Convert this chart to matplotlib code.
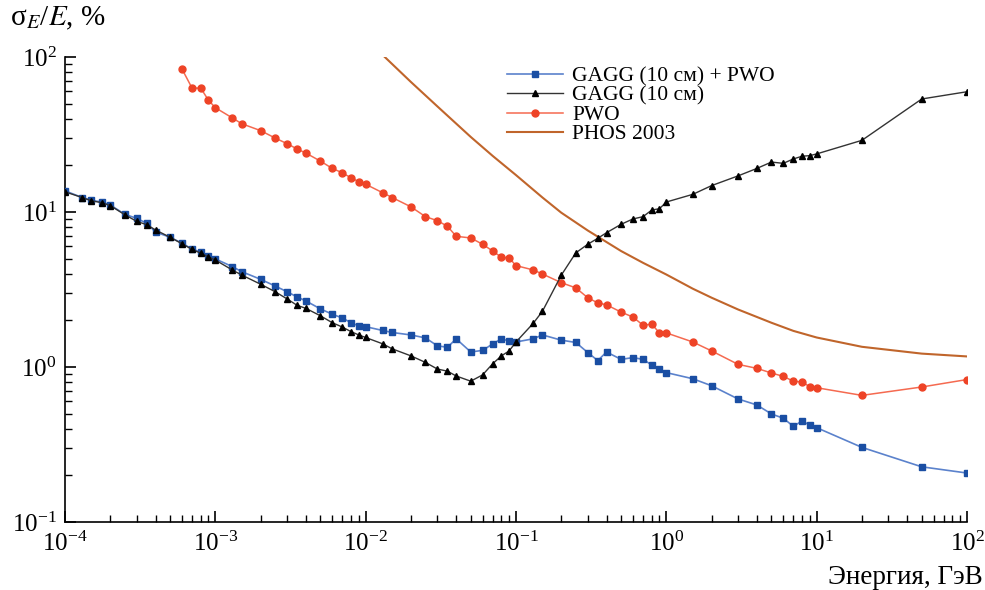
import numpy as np
import matplotlib
matplotlib.use("Agg")
import matplotlib.pyplot as plt
from matplotlib.ticker import LogLocator, LogFormatterMathtext, NullFormatter

plt.rcParams['font.family'] = ['Liberation Serif', 'DejaVu Serif']
plt.rcParams['mathtext.fontset'] = 'stix'

# energy grid (GeV) shared by the GAGG curves
energy = [1e-4, 1.3e-4, 1.5e-4, 1.75e-4, 2e-4, 2.5e-4, 3e-4, 3.5e-4, 4e-4, 5e-4,
          6e-4, 7e-4, 8e-4, 9e-4, 1e-3, 1.3e-3, 1.5e-3, 2e-3, 2.5e-3, 3e-3,
          3.5e-3, 4e-3, 5e-3, 6e-3, 7e-3, 8e-3, 9e-3, 1e-2, 1.3e-2, 1.5e-2,
          2e-2, 2.5e-2, 3e-2, 3.5e-2, 4e-2, 5e-2, 6e-2, 7e-2, 8e-2, 9e-2,
          0.1, 0.13, 0.15, 0.2, 0.25, 0.3, 0.35, 0.4, 0.5, 0.6,
          0.7, 0.8, 0.9, 1, 1.5, 2, 3, 4, 5, 6,
          7, 8, 9, 10, 20, 50, 100]

gagg_pwo = [13.7, 12.4, 11.9, 11.6, 11.1, 9.66, 9.10, 8.45, 7.43, 6.87,
            6.29, 5.77, 5.50, 5.20, 4.98, 4.44, 4.12, 3.68, 3.33, 3.06,
            2.83, 2.67, 2.37, 2.19, 2.07, 1.93, 1.84, 1.82, 1.72, 1.67,
            1.61, 1.54, 1.37, 1.34, 1.52, 1.25, 1.28, 1.41, 1.52, 1.47,
            1.45, 1.52, 1.61, 1.49, 1.44, 1.24, 1.10, 1.25, 1.12, 1.15,
            1.12, 1.03, 0.975, 0.92, 0.84, 0.757, 0.622, 0.569, 0.498, 0.467,
            0.414, 0.449, 0.421, 0.406, 0.303, 0.227, 0.207]

gagg = [13.5, 12.4, 11.8, 11.5, 11.0, 9.6, 8.7, 8.28, 7.66, 6.87,
        6.24, 5.74, 5.42, 5.13, 4.90, 4.22, 3.92, 3.42, 3.06, 2.75,
        2.50, 2.39, 2.14, 1.93, 1.81, 1.69, 1.61, 1.55, 1.41, 1.31,
        1.18, 1.07, 0.97, 0.94, 0.875, 0.81, 0.89, 1.05, 1.18, 1.27,
        1.45, 1.91, 2.29, 3.91, 5.45, 6.19, 6.77, 7.35, 8.33, 9.02,
        9.33, 10.3, 10.5, 11.6, 13.0, 14.8, 17.1, 19.1, 21.0, 20.6,
        22.0, 22.9, 23.1, 23.7, 29.0, 53.6, 59.7]

pwo_energy = energy[10:]
pwo = [83.7, 63.0, 63.0, 52.6, 47.1, 40.4, 37.1, 33.5, 30.0, 27.6,
       25.5, 24.0, 21.3, 19.1, 17.9, 16.6, 15.7, 15.1, 13.3, 12.4,
       10.8, 9.33, 8.79, 8.09, 6.97, 6.80, 6.19, 5.60, 5.10, 5.05,
       4.51, 4.23, 3.98, 3.50, 3.24, 2.80, 2.59, 2.52, 2.26, 2.10,
       1.86, 1.89, 1.66, 1.66, 1.45, 1.27, 1.04, 0.98, 0.915, 0.87,
       0.81, 0.80, 0.746, 0.735, 0.656, 0.743, 0.83]

# PHOS 2003 curve
phos_energy = [0.0134, 0.02, 0.03, 0.05, 0.07, 0.1, 0.15, 0.2, 0.3, 0.5,
               0.7, 1, 1.5, 2, 3, 5, 7, 10, 20, 50, 100]
phos = [100, 69, 48, 30.5, 23, 17.3, 12.4, 9.9, 7.6, 5.6,
        4.7, 3.95, 3.2, 2.8, 2.35, 1.93, 1.71, 1.55, 1.35, 1.22, 1.17]

fig = plt.figure(figsize=(9.85, 5.9), dpi=100)
ax = fig.add_axes([65/985, 1 - 522/590, (967 - 65)/985, (522 - 57)/590])

ax.plot(energy, gagg_pwo, color='#5b82cc', lw=1.2, marker='s', ms=5,
        mfc='#1a4ea3', mec='#1a4ea3', label='GAGG (10 см) + PWO', zorder=4)
ax.plot(energy, gagg, color='#333333', lw=1.0, marker='^', ms=4.5,
        mfc='black', mec='black', label='GAGG (10 см)', zorder=5)
ax.plot(pwo_energy, pwo, color='#f56a50', lw=1.1, marker='o', ms=5,
        mfc='#ee4326', mec='#ee4326', label='PWO', zorder=3)
ax.plot(phos_energy, phos, color='#c0652b', lw=1.5, label='PHOS 2003', zorder=2)

ax.set_xscale('log')
ax.set_yscale('log')
ax.set_xlim(1e-4, 1e2)
ax.set_ylim(1e-1, 1e2)

ax.spines['top'].set_visible(False)
ax.spines['right'].set_visible(False)
ax.spines['left'].set_linewidth(1.2)
ax.spines['bottom'].set_linewidth(1.2)

ax.xaxis.set_major_locator(LogLocator(base=10, numticks=10))
ax.xaxis.set_minor_locator(LogLocator(base=10, subs=np.arange(2, 10), numticks=20))
ax.yaxis.set_major_locator(LogLocator(base=10, numticks=10))
ax.yaxis.set_minor_locator(LogLocator(base=10, subs=np.arange(2, 10), numticks=20))
ax.xaxis.set_major_formatter(LogFormatterMathtext())
ax.yaxis.set_major_formatter(LogFormatterMathtext())
ax.xaxis.set_minor_formatter(NullFormatter())
ax.yaxis.set_minor_formatter(NullFormatter())

ax.tick_params(which='major', direction='in', length=8, width=1.2, labelsize=18)
ax.tick_params(axis='x', which='major', pad=7)
ax.tick_params(axis='y', which='major', pad=6)
ax.tick_params(which='minor', direction='in', length=5, width=1.0)

leg = ax.legend(loc='upper left', bbox_to_anchor=(433/902, 1 - 1/465), frameon=False,
                fontsize=15.5, handlelength=2.6, handletextpad=0.45,
                labelspacing=-0.04, borderaxespad=0)

fig.text(10/985, 1 - 18/590, 'σ$_{E}$/$E$, %', fontsize=21, va='center', ha='left')
fig.text(983/985, 1 - 577/590, 'Энергия, ГэВ', fontsize=19.5, va='center', ha='right')

fig.savefig('out.png', dpi=100)
